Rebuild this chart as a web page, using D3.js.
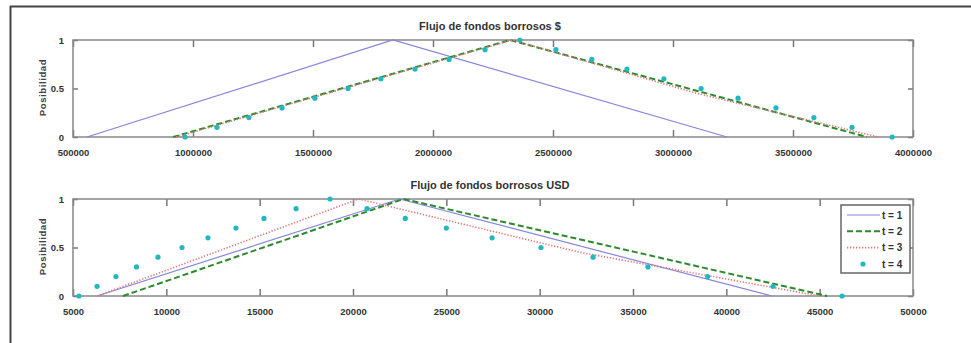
<!DOCTYPE html>
<html>
<head>
<meta charset="utf-8">
<script src="https://cdn.jsdelivr.net/npm/d3@7"></script>
<style>
  body { margin: 0; background: #fff; }
  svg { display: block; font-family: "Liberation Sans", Arial, sans-serif; }
</style>
</head>
<body>
<div id="chart"></div>
<script>
// Alpha levels (possibility) used by the triangular series
const triAlpha = [0, 1, 0];
const redAlpha = [0, 1, 0.45, 0];
const dotAlpha = [0, 0.1, 0.2, 0.3, 0.4, 0.5, 0.6, 0.7, 0.8, 0.9, 1, 0.9, 0.8, 0.7, 0.6, 0.5, 0.4, 0.3, 0.2, 0.1, 0];

// Top chart: Flujo de fondos borrosos $
const topT1 = [558000, 1833000, 3225000];
const topT2 = [917000, 2321000, 3808000];
const topT3 = [930000, 2330000, 3100000, 3855000];
const topT4 = [967000, 1100000, 1233000, 1371000, 1508000, 1646000, 1783000, 1925000, 2067000, 2217000, 2362000,
               2512000, 2662000, 2808000, 2962000, 3117000, 3271000, 3429000, 3587000, 3746000, 3913000];
const topTicks = [500000, 1000000, 1500000, 2000000, 2500000, 3000000, 3500000, 4000000];

// Bottom chart: Flujo de fondos borrosos USD
const botT1 = [6290, 22500, 42450];
const botT2 = [7680, 22700, 45400];
const botT3 = [6290, 20300, 32160, 45000];
const botT4 = [5320, 6290, 7300, 8400, 9550, 10840, 12230, 13730, 15230, 16950, 18770,
               20750, 22800, 25000, 27450, 30070, 32860, 35800, 39000, 42500, 46200];
const botTicks = [5000, 10000, 15000, 20000, 25000, 30000, 35000, 40000, 45000, 50000];

const yTicks = [0, 0.5, 1];
const legendLabels = ["t = 1", "t = 2", "t = 3", "t = 4"];

const width = 971, height = 343;
const colors = { t1: "#8585dc", t2: "#2b8a2b", t3: "#e07878", t4: "#22b8c2" };

const svg = d3.select("#chart").append("svg")
    .attr("width", width)
    .attr("height", height);

// outer frame (only top and left edges are visible)
svg.append("line").attr("x1", 10).attr("x2", width).attr("y1", 6.5).attr("y2", 6.5)
    .attr("stroke", "#444").attr("stroke-width", 2);
svg.append("line").attr("x1", 10.5).attr("x2", 10.5).attr("y1", 6).attr("y2", height)
    .attr("stroke", "#444").attr("stroke-width", 2);

function drawPanel(cfg) {
    const x = d3.scaleLinear().domain(cfg.domain).range([73, 913]);
    const y = d3.scaleLinear().domain([0, 1]).range([cfg.bottom, cfg.top]);
    const g = svg.append("g");

    // title
    g.append("text")
        .attr("x", 490).attr("y", cfg.top - 10)
        .attr("text-anchor", "middle")
        .style("font-size", "11px").style("font-weight", "bold").attr("fill", "#333")
        .text(cfg.title);

    // y label
    g.append("text")
        .attr("transform", `translate(46,${(cfg.top + cfg.bottom) / 2 - 1}) rotate(-90)`)
        .attr("text-anchor", "middle")
        .style("font-size", "9.5px").style("font-weight", "bold").style("letter-spacing", "0.6px")
        .attr("fill", "#444")
        .text("Posibilidad");

    // axes with inward ticks (MATLAB style)
    const tickStyle = sel => {
        sel.select(".domain").remove();
        sel.selectAll("line").attr("stroke", "#777").attr("stroke-width", 1.5);
        sel.selectAll("text").attr("fill", "#333")
            .style("font-size", "9.5px").style("font-weight", "bold")
            .style("font-family", "'Liberation Sans Narrow', 'Liberation Sans', Arial, sans-serif");
    };
    g.append("g").attr("transform", `translate(0,${cfg.bottom})`)
        .call(d3.axisBottom(x).tickValues(cfg.ticks).tickSizeInner(-7).tickSizeOuter(0).tickPadding(12).tickFormat(d3.format("d")))
        .call(tickStyle);
    g.append("g").attr("transform", `translate(0,${cfg.top})`)
        .call(d3.axisTop(x).tickValues(cfg.ticks).tickSizeInner(-7).tickSizeOuter(0).tickFormat(""))
        .call(tickStyle);
    g.append("g").attr("transform", "translate(73,0)")
        .call(d3.axisLeft(y).tickValues(yTicks).tickSizeInner(-5).tickSizeOuter(0).tickPadding(9).tickFormat(d3.format("")))
        .call(tickStyle);
    g.append("g").attr("transform", "translate(913,0)")
        .call(d3.axisRight(y).tickValues(yTicks).tickSizeInner(-5).tickSizeOuter(0).tickFormat(""))
        .call(tickStyle);

    // axes box
    g.append("rect")
        .attr("x", x.range()[0]).attr("y", cfg.top)
        .attr("width", x.range()[1] - x.range()[0]).attr("height", cfg.bottom - cfg.top)
        .attr("fill", "none").attr("stroke", "#888").attr("stroke-width", 1.5);

    const line = d3.line().x(d => x(d[0])).y(d => y(d[1]));
    const pairs = (xs, as) => xs.map((v, i) => [v, as[i]]);

    g.append("path").datum(pairs(cfg.t1, triAlpha)).attr("d", line)
        .attr("fill", "none").attr("stroke", colors.t1).attr("stroke-width", 1.2);
    g.append("path").datum(pairs(cfg.t2, triAlpha)).attr("d", line)
        .attr("fill", "none").attr("stroke", colors.t2).attr("stroke-width", 2)
        .attr("stroke-dasharray", "6,3");
    g.append("path").datum(pairs(cfg.t3, redAlpha)).attr("d", line)
        .attr("fill", "none").attr("stroke", colors.t3).attr("stroke-width", 1.6)
        .attr("stroke-dasharray", "1.3,1.7");
    g.selectAll("circle.t4").data(pairs(cfg.t4, dotAlpha)).enter().append("circle")
        .attr("class", "t4")
        .attr("cx", d => x(d[0])).attr("cy", d => y(d[1])).attr("r", 2.6)
        .attr("fill", colors.t4);
    return g;
}

drawPanel({ title: "Flujo de fondos borrosos $", domain: [500000, 4000000], ticks: topTicks,
            top: 40, bottom: 137, t1: topT1, t2: topT2, t3: topT3, t4: topT4 });
drawPanel({ title: "Flujo de fondos borrosos USD", domain: [5000, 50000], ticks: botTicks,
            top: 199, bottom: 296, t1: botT1, t2: botT2, t3: botT3, t4: botT4 });

// legend
const legend = svg.append("g").attr("transform", "translate(841,205)");
legend.append("rect").attr("width", 69).attr("height", 68)
    .attr("fill", "#fff").attr("stroke", "#666").attr("stroke-width", 1.5);
const legendY = d3.scalePoint().domain(legendLabels).range([10, 59]);
const styles = [
    { stroke: colors.t1, w: 1.2, dash: null },
    { stroke: colors.t2, w: 2, dash: "6,3" },
    { stroke: colors.t3, w: 1.6, dash: "1.3,1.7" },
    null
];
legendLabels.forEach((lab, i) => {
    const yy = legendY(lab);
    if (styles[i]) {
        legend.append("line").attr("x1", 6).attr("x2", 39).attr("y1", yy).attr("y2", yy)
            .attr("stroke", styles[i].stroke).attr("stroke-width", styles[i].w)
            .attr("stroke-dasharray", styles[i].dash);
    } else {
        legend.append("circle").attr("cx", 22).attr("cy", yy).attr("r", 2.6).attr("fill", colors.t4);
    }
    legend.append("text").attr("x", 41).attr("y", yy).attr("dy", "0.35em")
        .style("font-size", "10px").style("font-weight", "bold").attr("fill", "#333")
        .text(lab);
});
</script>
</body>
</html>
